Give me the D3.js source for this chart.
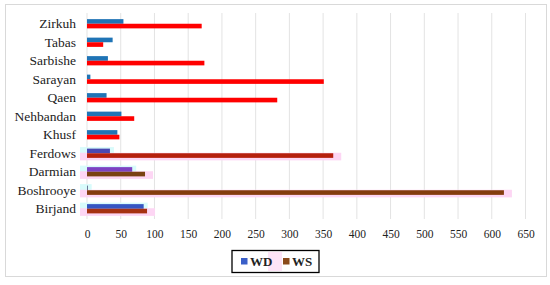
<!DOCTYPE html>
<html>
<head>
<meta charset="utf-8">
<script src="https://cdn.jsdelivr.net/npm/d3@7"></script>
<style>
body { margin: 0; background: #fff; }
svg { display: block; }
text { font-family: "Liberation Serif", "DejaVu Serif", serif; fill: #222; }
</style>
</head>
<body>
<div id="chart"></div>
<script>
// data (top to bottom)
var stations = ["Zirkuh", "Tabas", "Sarbishe", "Sarayan", "Qaen", "Nehbandan",
                "Khusf", "Ferdows", "Darmian", "Boshrooye", "Birjand"]
var wd = [54, 38, 31, 5, 29, 51, 45, 34, 67, 1, 84]
var ws = [170, 24, 174, 351, 282, 70, 48, 365, 86, 618, 89]
var ticks = d3.range(0, 651, 50)

// colours as they appear per station (the lower rows are tinted differently)
var wdColor = {Ferdows: "#4a48b2", Darmian: "#7d42c2", Boshrooye: "#3a3a6a", Birjand: "#3556c2"}
var wsColor = {Ferdows: "#b5200d", Darmian: "#7a4212", Boshrooye: "#843c0e", Birjand: "#a63212"}
var glow = {Ferdows: true, Darmian: true, Boshrooye: true, Birjand: true}

var W = 550, H = 285
var svg = d3.select("#chart").append("svg").attr("width", W).attr("height", H)

// outer frame
svg.append("rect").attr("x", 5.5).attr("y", 4.5).attr("width", 541).attr("height", 272)
    .attr("fill", "none").attr("stroke", "#d9d9d9")

var x = d3.scaleLinear().domain([0, 650]).range([87, 525.5])
var y = d3.scaleBand().domain(stations).range([14.5, 218]).paddingInner(0.5).paddingOuter(0.25)

// grid
svg.append("g").selectAll("line").data(ticks).join("line")
    .attr("x1", function(d) { return x(d) }).attr("x2", function(d) { return x(d) })
    .attr("y1", 13).attr("y2", 219)
    .attr("stroke", "#e3e3e3").attr("stroke-width", 1)

var xAxis = svg.append("g").attr("transform", "translate(0,219)")
    .call(d3.axisBottom(x).tickValues(ticks).tickSize(0).tickPadding(11))
xAxis.select(".domain").remove()
xAxis.selectAll("text").attr("font-size", "11.5px").attr("fill", "#333")

// category labels
svg.append("g").selectAll("text").data(stations).join("text")
    .attr("x", 76).attr("y", function(d) { return y(d) + y.bandwidth() / 2 })
    .attr("dy", "0.35em").attr("text-anchor", "end").attr("font-size", "13.5px")
    .text(function(d) { return d })

var bh = y.bandwidth() / 2

// soft highlight behind some rows
var hl = svg.append("g")
stations.forEach(function(s, i) {
    if (!glow[s]) return
    hl.append("rect").attr("x", 80).attr("y", y(s) - 1.5)
        .attr("width", x(wd[i]) - 80 + 4).attr("height", bh + 2)
        .attr("fill", "#d8fbfb")
    hl.append("rect").attr("x", 80).attr("y", y(s) + bh - 0.5)
        .attr("width", x(ws[i]) - 80 + 8).attr("height", bh + 3)
        .attr("fill", "#fdd6f4")
})

svg.append("g").selectAll("rect").data(stations).join("rect")
    .attr("x", x(0)).attr("y", function(d) { return y(d) })
    .attr("width", function(d, i) { return x(wd[i]) - x(0) }).attr("height", bh)
    .attr("fill", function(d) { return wdColor[d] || "#1f74b6" })

svg.append("g").selectAll("rect").data(stations).join("rect")
    .attr("x", x(0)).attr("y", function(d) { return y(d) + bh })
    .attr("width", function(d, i) { return x(ws[i]) - x(0) }).attr("height", bh)
    .attr("fill", function(d) { return wsColor[d] || "#ff0000" })

// legend
var lg = svg.append("g")
lg.append("rect").attr("x", 232).attr("y", 250.5).attr("width", 87).attr("height", 22)
    .attr("fill", "#fff").attr("stroke", "#000").attr("stroke-width", 1.3)
lg.append("rect").attr("x", 268).attr("y", 252).attr("width", 14).attr("height", 19).attr("fill", "#fde4f7")
lg.append("rect").attr("x", 241).attr("y", 258).attr("width", 6.5).attr("height", 6.5).attr("fill", "#3a5fc8")
lg.append("text").attr("x", 250).attr("y", 266).attr("font-size", "13px").attr("font-weight", "bold").attr("fill", "#111").text("WD")
lg.append("rect").attr("x", 283).attr("y", 258).attr("width", 6.5).attr("height", 6.5).attr("fill", "#8a4a1a")
lg.append("text").attr("x", 292).attr("y", 266).attr("font-size", "13px").attr("font-weight", "bold").attr("fill", "#111").text("WS")
</script>
</body>
</html>
